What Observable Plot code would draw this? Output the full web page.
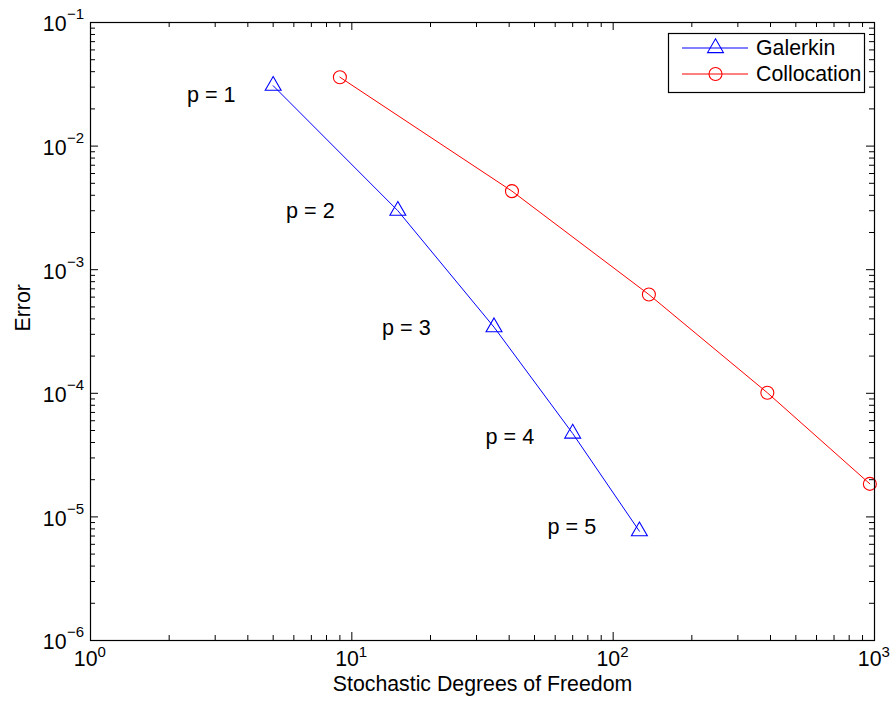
<!DOCTYPE html>
<html><head><meta charset="utf-8">
<script src="https://cdn.jsdelivr.net/npm/d3@7"></script>
<script src="https://cdn.jsdelivr.net/npm/@observablehq/plot@0.6"></script>
<style>
body{margin:0;background:#fff;}
svg{display:block;}
</style>
</head><body><div id="chart"></div>
<script>
// ---- data ----
const galerkinDof = [5, 15, 35, 70, 126];
const galerkinErr = [3.08e-2, 3.0e-3, 3.43e-4, 4.73e-5, 7.66e-6];
const collocationDof = [9, 41, 137, 389, 960];
const collocationErr = [3.61e-2, 4.32e-3, 6.30e-4, 1.01e-4, 1.85e-5];
const pLabels = ["p = 1", "p = 2", "p = 3", "p = 4", "p = 5"];
const pLabelX = [2.34, 5.6, 13.05, 32.5, 56.1];
const pLabelY = [0.0257, 0.00296, 3.34e-4, 4.39e-5, 8.21e-6];
const xTickExp = [0, 1, 2, 3];
const yTickExp = [-6, -5, -4, -3, -2, -1];
const seriesNames = ["Galerkin", "Collocation"];
const seriesColors = ["#0000ff", "#ff0000"];
const xLabel = "Stochastic Degrees of Freedom";
const yLabel = "Error";

// ---- build ----
const W = 896, H = 709, mL = 90, mR = 22, mT = 22, mB = 69;
const plotW = W - mL - mR, plotH = H - mT - mB;
const FONT = '"Liberation Sans", Arial, Helvetica, sans-serif';
const MINUS = "\u2212";
const fmtExp = e => (e < 0 ? MINUS + Math.abs(e) : String(e));
const FS = 21.3, FSE = 15;
const TRI_R = 5.9;

const galerkin = galerkinDof.map((x, i) => ({x, y: galerkinErr[i]}));
const collocation = collocationDof.map((x, i) => ({x, y: collocationErr[i]}));
const labels = pLabels.map((t, i) => ({t, x: pLabelX[i], y: pLabelY[i]}));

const xMajor = xTickExp.map(e => ({v: Math.pow(10, e), e}));
const yMajor = yTickExp.map(e => ({v: Math.pow(10, e), e}));
const minorOf = exps => {
  const out = [];
  for (let k = 0; k < exps.length - 1; k++)
    for (let m = 2; m <= 9; m++) out.push(m * Math.pow(10, exps[k]));
  return out;
};
const xMinor = minorOf(xTickExp);
const yMinor = minorOf(yTickExp);

const MAJ = 8, MIN = 5;

const chart = Plot.plot({
  width: W, height: H,
  marginLeft: mL, marginRight: mR, marginTop: mT, marginBottom: mB,
  style: {fontFamily: FONT, background: "white", color: "black"},
  x: {type: "log", domain: [1, 1000], axis: null},
  y: {type: "log", domain: [1e-6, 0.1], axis: null},
  marks: [
    // ticks (inward, all four sides)
    Plot.tickX(xMajor, {x: "v", insetTop: plotH - MAJ, stroke: "black"}),
    Plot.tickX(xMajor, {x: "v", insetBottom: plotH - MAJ, stroke: "black"}),
    Plot.tickX(xMinor, {x: d => d, insetTop: plotH - MIN, stroke: "black"}),
    Plot.tickX(xMinor, {x: d => d, insetBottom: plotH - MIN, stroke: "black"}),
    Plot.tickY(yMajor, {y: "v", insetRight: plotW - MAJ, stroke: "black"}),
    Plot.tickY(yMajor, {y: "v", insetLeft: plotW - MAJ, stroke: "black"}),
    Plot.tickY(yMinor, {y: d => d, insetRight: plotW - MIN, stroke: "black"}),
    Plot.tickY(yMinor, {y: d => d, insetLeft: plotW - MIN, stroke: "black"}),
    // tick labels
    Plot.text(xMajor, {x: "v", frameAnchor: "bottom", text: () => "10", textAnchor: "end", dx: 7, dy: 25, fontSize: FS}),
    Plot.text(xMajor, {x: "v", frameAnchor: "bottom", text: d => fmtExp(d.e), textAnchor: "start", dx: 7, dy: 16, fontSize: FSE}),
    Plot.text(yMajor, {y: "v", frameAnchor: "left", text: () => "10", textAnchor: "end", dx: -24, dy: 2, fontSize: FS}),
    Plot.text(yMajor, {y: "v", frameAnchor: "left", text: d => fmtExp(d.e), textAnchor: "start", dx: -23.5, dy: -8, fontSize: FSE}),
    // axis titles
    Plot.text([xLabel], {frameAnchor: "bottom", text: d => d, dy: 50, fontSize: FS}),
    Plot.text([yLabel], {frameAnchor: "left", text: d => d, dx: -67, rotate: -90, fontSize: FS}),
    // series
    Plot.line(galerkin, {x: "x", y: "y", stroke: seriesColors[0], strokeWidth: 1}),
    Plot.dot(galerkin, {x: "x", y: "y", symbol: "triangle", r: TRI_R, stroke: seriesColors[0], fill: "none", strokeWidth: 1.1}),
    Plot.line(collocation, {x: "x", y: "y", stroke: seriesColors[1], strokeWidth: 1}),
    Plot.dot(collocation, {x: "x", y: "y", symbol: "circle", r: 6.5, stroke: seriesColors[1], fill: "none", strokeWidth: 1.1}),
    // annotations
    Plot.text(labels, {x: "x", y: "y", text: "t", textAnchor: "start", fontSize: 21.6}),
    // frame
    Plot.frame({stroke: "black", strokeWidth: 1.2}),
    // legend box
    Plot.frame({insetLeft: 578, insetRight: 10, insetTop: 11, insetBottom: plotH - 70, fill: "white", stroke: "black", strokeWidth: 1.2})
  ]
});

// legend contents
const svg = d3.select(chart);
const leg = svg.append("g").attr("font-family", FONT).attr("font-size", FS).attr("text-anchor", "start");
seriesNames.forEach((name, i) => {
  const y = 48 + i * 26;
  leg.append("line").attr("x1", 682).attr("x2", 748).attr("y1", y).attr("y2", y)
    .attr("stroke", seriesColors[i]).attr("stroke-width", 1);
  if (i === 0) {
    leg.append("path").attr("transform", `translate(715.5,${y})`)
      .attr("d", d3.symbol(d3.symbolTriangle, Math.PI * TRI_R * TRI_R)())
      .attr("fill", "none").attr("stroke", seriesColors[i]).attr("stroke-width", 1.1);
  } else {
    leg.append("circle").attr("cx", 715.5).attr("cy", y).attr("r", 6.5)
      .attr("fill", "none").attr("stroke", seriesColors[i]).attr("stroke-width", 1.1);
  }
  leg.append("text").attr("x", 756).attr("y", y).attr("dy", "0.35em").attr("fill", "black").text(name);
});

document.getElementById("chart").appendChild(chart);
</script>
</body></html>
